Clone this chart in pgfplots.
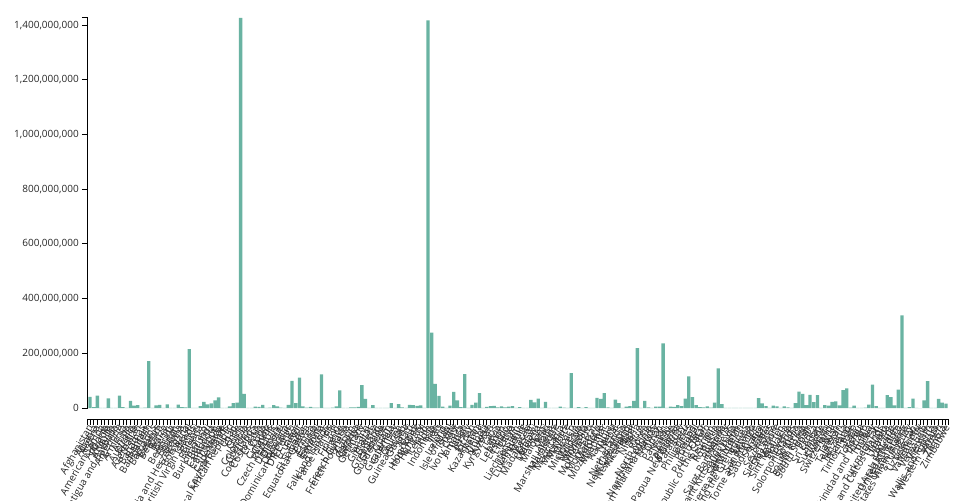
\documentclass[border=0pt]{standalone}
\usepackage{pgfplots}
\pgfplotsset{compat=1.18}
\usepackage{fontspec}
\setmainfont{Open Sans}
\definecolor{barc}{HTML}{69B3A2}
\begin{document}
\begin{tikzpicture}
\begin{axis}[
  at={(0,0)}, anchor=south west,
  scale only axis, width=645pt, height=292.5pt,
  xmin=-0.55, xmax=233.55, ymin=0, ymax=1425887337,
  axis x line=none, axis y line*=left,
  axis line style={-, line width=0.75pt, black},
  scaled y ticks=false,
  ytick={0,200000000,400000000,600000000,800000000,1000000000,1200000000,1400000000},
  yticklabels={{0},{200,000,000},{400,000,000},{600,000,000},{800,000,000},{1,000,000,000},{1,200,000,000},{1,400,000,000}},
  extra y ticks={1425887337}, extra y tick labels={},
  tick align=outside, major tick length=4.5pt,
  tick style={black, line width=0.75pt},
  yticklabel style={font=\fontsize{7.5}{9}\selectfont, text=black!85, inner sep=0pt, xshift=-2.25pt},
  clip=false,
]
\addplot[ybar, bar width=0.9, bar shift=0pt, fill=barc, draw=none] table[x=i,y=p] {
i p
0 41128771
1 2842321
2 44903225
3 44273
4 79824
5 35588987
6 15857
7 93763
8 45510318
9 2780469
10 106445
11 26177413
12 8939617
13 10358074
14 409984
15 1472233
16 171186372
17 281635
18 9534954
19 11655930
20 405272
21 13352864
22 64184
23 782455
24 12224110
25 3233526
26 2630296
27 215313498
28 31305
29 449002
30 6781953
31 22673762
32 12889576
33 16767842
34 27914536
35 38454327
36 593149
37 68706
38 5579144
39 17723315
40 19603733
41 1425887337
42 51874024
43 836774
44 17011
45 5180829
46 4030358
47 11212191
48 191163
49 1251488
50 10493986
51 5882261
52 1120849
53 72737
54 11228821
55 99010212
56 18001000
57 110990103
58 6336392
59 1674908
60 3684032
61 1326062
62 1201670
63 123379924
64 3780
65 53090
66 929766
67 5540745
68 64626628
69 304557
70 306279
71 2388992
72 2705992
73 3744385
74 83369843
75 33475870
76 32649
77 10384971
78 56466
79 125438
80 395752
81 171774
82 17843908
83 63301
84 13859341
85 2105566
86 808726
87 11584996
88 10432860
89 7488865
90 9967308
91 372899
92 1417173173
93 275501339
94 88550570
95 44496122
96 5023109
97 84519
98 9038309
99 59037474
100 28160542
101 2827377
102 123951692
103 110778
104 11285869
105 19397998
106 54027487
107 131232
108 4268873
109 6630623
110 7529475
111 1850651
112 5489739
113 2305825
114 5302681
115 6812341
116 39327
117 2750055
118 647599
119 695168
120 29611714
121 20405317
122 33938221
123 523787
124 22593590
125 533286
126 41569
127 367507
128 4736139
129 1299469
130 326101
131 127504125
132 114164
133 3272996
134 36469
135 3398366
136 627082
137 4390
138 37457971
139 32969518
140 54179306
141 2567012
142 12668
143 30547580
144 17564014
145 289950
146 5185288
147 6948392
148 26207977
149 218541212
150 1934
151 26069416
152 2093599
153 49551
154 5434319
155 4576298
156 235824862
157 18055
158 5250072
159 4408581
160 10142619
161 6780744
162 34049588
163 115559009
164 39857145
165 10270865
166 3252407
167 2695122
168 5970424
169 974052
170 19659267
171 144713314
172 13776698
173 10967
174 47657
175 179857
176 31791
177 5862
178 103948
179 222382
180 33660
181 227380
182 36408820
183 17316449
184 7221365
185 107118
186 8605718
187 5975689
188 44175
189 5643453
190 2119844
191 724273
192 17597511
193 59893885
194 51815810
195 10913164
196 47558630
197 21832143
198 46874204
199 618040
200 10549347
201 8740472
202 22125249
203 23893394
204 9952787
205 65497748
206 71697030
207 1341296
208 8848699
209 1871
210 106858
211 1531044
212 12356117
213 85341241
214 6430770
215 45703
216 11312
217 47249585
218 39701739
219 9441129
220 67508936
221 338289857
222 99465
223 3422794
224 34627652
225 326740
226 510
227 28301696
228 98186856
229 11572
230 575986
231 33696614
232 20017675
233 16320537
};
\end{axis}
\begin{axis}[
  at={(0,-8.25pt)}, anchor=south west,
  scale only axis, width=645pt, height=10pt,
  xmin=-0.55, xmax=233.55, ymin=0, ymax=1,
  axis y line=none, axis x line*=bottom,
  axis line style={-, line width=0.75pt, black},
  xtick={0,...,233},
  xticklabels={Afghanistan,Albania,Algeria,American Samoa,Andorra,Angola,Anguilla,Antigua and Barbuda,Argentina,Armenia,Aruba,Australia,Austria,Azerbaijan,Bahamas,Bahrain,Bangladesh,Barbados,Belarus,Belgium,Belize,Benin,Bermuda,Bhutan,Bolivia,Bosnia and Herzegovina,Botswana,Brazil,British Virgin Islands,Brunei,Bulgaria,Burkina Faso,Burundi,Cambodia,Cameroon,Canada,Cape Verde,Cayman Islands,Central African Republic,Chad,Chile,China,Colombia,Comoros,Cook Islands,Costa Rica,Croatia,Cuba,Curacao,Cyprus,Czech Republic,Denmark,Djibouti,Dominica,Dominican Republic,DR Congo,Ecuador,Egypt,El Salvador,Equatorial Guinea,Eritrea,Estonia,Eswatini,Ethiopia,Falkland Islands,Faroe Islands,Fiji,Finland,France,French Guiana,French Polynesia,Gabon,Gambia,Georgia,Germany,Ghana,Gibraltar,Greece,Greenland,Grenada,Guadeloupe,Guam,Guatemala,Guernsey,Guinea,Guinea-Bissau,Guyana,Haiti,Honduras,Hong Kong,Hungary,Iceland,India,Indonesia,Iran,Iraq,Ireland,Isle of Man,Israel,Italy,Ivory Coast,Jamaica,Japan,Jersey,Jordan,Kazakhstan,Kenya,Kiribati,Kuwait,Kyrgyzstan,Laos,Latvia,Lebanon,Lesotho,Liberia,Libya,Liechtenstein,Lithuania,Luxembourg,Macau,Madagascar,Malawi,Malaysia,Maldives,Mali,Malta,Marshall Islands,Martinique,Mauritania,Mauritius,Mayotte,Mexico,Micronesia,Moldova,Monaco,Mongolia,Montenegro,Montserrat,Morocco,Mozambique,Myanmar,Namibia,Nauru,Nepal,Netherlands,New Caledonia,New Zealand,Nicaragua,Niger,Nigeria,Niue,North Korea,North Macedonia,Northern Mariana Islands,Norway,Oman,Pakistan,Palau,Palestine,Panama,Papua New Guinea,Paraguay,Peru,Philippines,Poland,Portugal,Puerto Rico,Qatar,Republic of the Congo,Reunion,Romania,Russia,Rwanda,Saint Barthelemy,Saint Kitts and Nevis,Saint Lucia,Saint Martin,Saint Pierre and Miquelon,Saint Vincent and the Grenadines,Samoa,San Marino,Sao Tome and Principe,Saudi Arabia,Senegal,Serbia,Seychelles,Sierra Leone,Singapore,Sint Maarten,Slovakia,Slovenia,Solomon Islands,Somalia,South Africa,South Korea,South Sudan,Spain,Sri Lanka,Sudan,Suriname,Sweden,Switzerland,Syria,Taiwan,Tajikistan,Tanzania,Thailand,Timor-Leste,Togo,Tokelau,Tonga,Trinidad and Tobago,Tunisia,Turkey,Turkmenistan,Turks and Caicos Islands,Tuvalu,Uganda,Ukraine,United Arab Emirates,United Kingdom,United States,United States Virgin Islands,Uruguay,Uzbekistan,Vanuatu,Vatican City,Venezuela,Vietnam,Wallis and Futuna,Western Sahara,Yemen,Zambia,Zimbabwe},
  extra x ticks={-0.55,233.55}, extra x tick labels={},
  tick align=outside, major tick length=4.5pt,
  tick style={black, line width=0.75pt},
  xticklabel style={rotate=60, anchor=east, font=\fontsize{7.5}{9}\selectfont, text=black!85, inner sep=0pt, yshift=-1pt},
]
\addplot[draw=none] coordinates {(0,0.5)};
\end{axis}
\pgfresetboundingbox
\path (-66pt,-69pt) rectangle (654pt,306pt);
\end{tikzpicture}
\end{document}
